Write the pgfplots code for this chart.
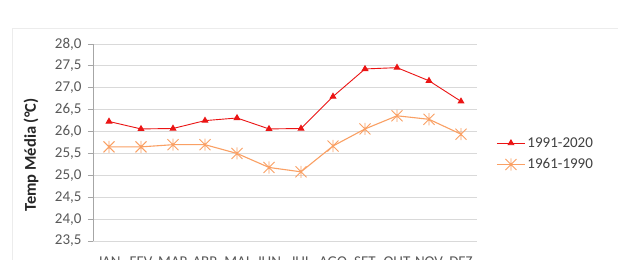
\documentclass[border=0pt]{standalone}
\usepackage{fontspec}
\setmainfont{Carlito}
\usepackage{pgfplots}
\pgfplotsset{compat=1.18}
\definecolor{redl}{RGB}{235,20,20}
\definecolor{orangel}{RGB}{250,160,100}
\definecolor{gridc}{RGB}{217,217,217}
\definecolor{tickc}{RGB}{89,89,89}
\definecolor{legc}{RGB}{64,64,64}
\definecolor{borderc}{RGB}{236,236,236}
\pgfdeclareplotmark{xstar}{%
  \pgfpathmoveto{\pgfqpoint{-\pgfplotmarksize}{-\pgfplotmarksize}}%
  \pgfpathlineto{\pgfqpoint{\pgfplotmarksize}{\pgfplotmarksize}}%
  \pgfpathmoveto{\pgfqpoint{-\pgfplotmarksize}{\pgfplotmarksize}}%
  \pgfpathlineto{\pgfqpoint{\pgfplotmarksize}{-\pgfplotmarksize}}%
  \pgfpathmoveto{\pgfqpoint{0pt}{-1.1\pgfplotmarksize}}%
  \pgfpathlineto{\pgfqpoint{0pt}{1.1\pgfplotmarksize}}%
  \pgfusepathqstroke}
\pgfplotstableread{
x a b
0 26.23 25.65
1 26.06 25.65
2 26.07 25.70
3 26.25 25.70
4 26.31 25.50
5 26.06 25.18
6 26.07 25.08
7 26.80 25.67
8 27.43 26.06
9 27.46 26.36
10 27.16 26.28
11 26.69 25.94
}\datatab
\begin{document}
\begin{tikzpicture}
\useasboundingbox (0,0) rectangle (618bp,260bp);
\fill[white] (0,0) rectangle (618bp,260bp);
\draw[borderc, line width=0.8bp] (12bp,0) -- (12bp,232bp) -- (618bp,232bp);
\begin{axis}[
  at={(93bp,19bp)}, anchor=south west,
  scale only axis, width=384bp, height=197bp,
  xmin=-0.5, xmax=11.5, ymin=23.5, ymax=28,
  xtick={0,...,11},
  xticklabels={JAN,FEV,MAR,ABR,MAI,JUN,JUL,AGO,SET,OUT,NOV,DEZ},
  ytick={23.5,24,24.5,25,25.5,26,26.5,27,27.5,28},
  ymajorgrids, grid style={gridc, line width=0.9bp},
  axis x line*=bottom, axis y line*=left,
  x axis line style={gridc, line width=0.9bp},
  y axis line style={black!35, line width=0.9bp},
  tick align=outside, major tick length=5bp,
  xtick style={draw=none},
  ytick style={black!35, line width=0.9bp},
  tick label style={font=\fontsize{15bp}{18bp}\selectfont, color=tickc},
  xticklabel style={yshift=-7bp},
  yticklabel style={xshift=-3bp, /pgf/number format/.cd, fixed, fixed zerofill, precision=1, use comma, assume math mode=true},
  every axis y label/.style={at={(axis description cs:-0.1615,0.4366)}, rotate=90, anchor=center},
  ylabel={Temp Média (°C)},
  ylabel style={font=\bfseries\fontsize{16.5bp}{20bp}\selectfont, color=black!85},
  legend style={draw=none, fill=none, at={(axis description cs:1.05,0.442)}, anchor=west,
    font=\fontsize{15bp}{18bp}\selectfont, text=legc, row sep=6bp, inner sep=0pt},
  legend cell align=left,
  legend image code/.code={\draw[mark repeat=2,mark phase=2,#1] plot coordinates {(0bp,0bp) (14bp,0bp) (28bp,0bp)};},
  clip=false,
]
\addplot[redl, line width=0.9bp, mark=triangle*, mark size=3.2bp, mark options={fill=redl}] table[x=x,y=a] {\datatab};
\addlegendentry{1991-2020}
\addplot[orangel, line width=1.1bp, mark=xstar, mark size=5.5bp, mark options={line width=0.9bp}] table[x=x,y=b] {\datatab};
\addlegendentry{1961-1990}
\end{axis}
\end{tikzpicture}
\end{document}
